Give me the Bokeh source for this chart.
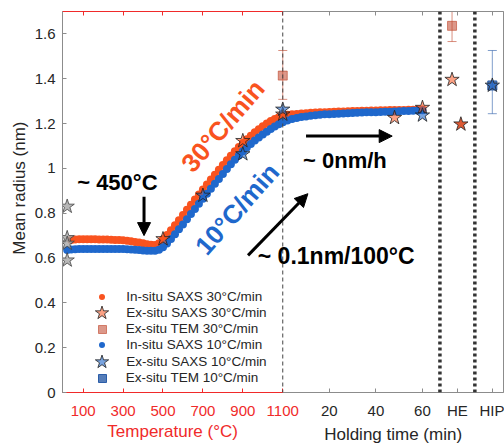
import numpy as np
from bokeh.plotting import figure
from bokeh.models import (LinearAxis, FixedTicker, Span, Label, Arrow, NormalHead,
                          Legend, LegendItem, Whisker, TeeHead, ColumnDataSource,
                          CustomLabelingPolicy)
from bokeh.embed import file_html
from bokeh.resources import INLINE

# ---------------- data ----------------
temp_30 = [40, 60, 80, 100, 120, 140, 160, 180, 200, 220, 240, 260, 280, 300, 320, 340,
           360, 380, 400, 420, 440, 460, 480, 500, 520, 540, 560, 580, 600, 620, 640, 660,
           680, 700, 720, 740, 760, 780, 800, 820, 840, 860, 880, 900, 920, 940, 960, 980,
           1000, 1020, 1040, 1060, 1080, 1100]
radius_30 = [0.681, 0.683, 0.684, 0.684, 0.684, 0.684, 0.684, 0.683, 0.683, 0.683, 0.682,
             0.681, 0.680, 0.679, 0.677, 0.675, 0.672, 0.669, 0.666, 0.662, 0.659, 0.658,
             0.666, 0.684, 0.703, 0.724, 0.746, 0.769, 0.792, 0.815, 0.838, 0.861, 0.884,
             0.906, 0.928, 0.950, 0.972, 0.994, 1.015, 1.036, 1.056, 1.076, 1.095, 1.113,
             1.130, 1.146, 1.161, 1.175, 1.188, 1.200, 1.211, 1.220, 1.228, 1.235]
temp_10 = [20, 40, 60, 80, 100, 120, 140, 160, 180, 200, 220, 240, 260, 280, 300, 320, 340,
           360, 380, 400, 420, 440, 460, 480, 500, 520, 540, 560, 580, 600, 620, 640, 660,
           680, 700, 720, 740, 760, 780, 800, 820, 840, 860, 880, 900, 920, 940, 960, 980,
           1000, 1020, 1040, 1060, 1080, 1100]
radius_10 = [0.636, 0.638, 0.639, 0.640, 0.640, 0.640, 0.640, 0.640, 0.640, 0.640, 0.640,
             0.640, 0.640, 0.640, 0.640, 0.639, 0.638, 0.637, 0.636, 0.634, 0.633, 0.632,
             0.633, 0.637, 0.648, 0.665, 0.685, 0.706, 0.728, 0.750, 0.773, 0.796, 0.819,
             0.842, 0.865, 0.887, 0.909, 0.931, 0.953, 0.975, 0.997, 1.018, 1.039, 1.058,
             1.076, 1.093, 1.109, 1.124, 1.138, 1.151, 1.164, 1.176, 1.187, 1.197, 1.206]
hold_min = [0, 2, 4, 6, 8, 10, 12, 14, 16, 18, 20, 22, 24, 26, 28, 30, 32, 34, 36, 38, 40,
            42, 44, 46, 48, 50, 52, 54, 56, 58, 60]
hold_radius_30 = [1.236, 1.239, 1.241, 1.243, 1.245, 1.246, 1.248, 1.249, 1.250, 1.251,
                  1.252, 1.253, 1.254, 1.254, 1.255, 1.256, 1.256, 1.257, 1.257, 1.258,
                  1.258, 1.259, 1.259, 1.260, 1.260, 1.261, 1.261, 1.262, 1.262, 1.263, 1.263]
hold_radius_10 = [1.207, 1.214, 1.220, 1.225, 1.229, 1.232, 1.235, 1.237, 1.239, 1.241,
                  1.242, 1.243, 1.244, 1.245, 1.246, 1.247, 1.248, 1.249, 1.250, 1.250,
                  1.251, 1.252, 1.253, 1.253, 1.254, 1.255, 1.256, 1.256, 1.257, 1.258, 1.259]

# ex-situ SAXS (stars)
star_asrec_temp = [20, 20, 20, 20]
star_asrec_r = [0.83, 0.69, 0.665, 0.59]
star30_temp = [500, 900, 1100]
star30_temp_r = [0.685, 1.123, 1.241]
star30_hold = [48, 60]
star30_hold_r = [1.226, 1.271]
star30_HE_r = [1.396]
star30_HE2_r = [1.197]
star10_temp = [700, 900, 1100]
star10_temp_r = [0.879, 1.064, 1.263]
star10_hold = [60]
star10_hold_r = [1.237]
star10_HIP_r = [1.37]

# ex-situ TEM (squares with error bars)
tem30_temp = [1100]
tem30_temp_r = [1.414]
tem30_temp_lo = [1.308]
tem30_temp_hi = [1.526]
tem30_HE_r = [1.636]
tem30_HE_lo = [1.566]
tem30_HE_hi = [1.70]
tem10_HIP_r = [1.37]
tem10_HIP_lo = [1.244]
tem10_HIP_hi = [1.526]

# ticks
temp_ticks = [100, 300, 500, 700, 900, 1100]
hold_ticks = [20, 40, 60]
cat_labels = ["HE", "HIP"]
cat_minutes = [75, 90]          # where the categories sit on the time scale
y_ticks = [0, 0.2, 0.4, 0.6, 0.8, 1.0, 1.2, 1.4, 1.6]
y_tick_labels = ["0", "0.2", "0.4", "0.6", "0.8", "1", "1.2", "1.4", "1.6"]

# ---------------- scale: temperature then holding time on one axis ----------------
T_END = 1100
HOLD_SCALE = 35.0 / 3.0        # temperature units per minute of holding
X_START, X_END = -3.5, 2206
Y_TITLE_AT = 0.912             # where the y title is centred (as in the original)


def hx(t):
    return [T_END + v * HOLD_SCALE for v in t]


cat_pos = dict(zip(cat_labels, cat_minutes))

ORANGE = "#f9531f"
BLUE = "#1f68cc"
RED_AX = "#f02a2a"
GREY_AX = "#8c8c8c"
TXT = "#262626"
FONT = "Liberation Sans"
TICK_PX = 15
TICK_H = 17      # measured height of a 15px tick label
TITLE_H = 19     # measured height of a 17px axis title

p = figure(width=504, height=446, x_range=(X_START, X_END), y_range=(0, 1.7),
           output_backend="svg", toolbar_location=None, x_axis_location=None,
           min_border_left=62, min_border_right=1, min_border_top=11, min_border_bottom=51)
p.grid.visible = False
p.outline_line_color = GREY_AX
p.background_fill_color = "white"

ya = p.yaxis[0]
ya.ticker = FixedTicker(ticks=y_ticks, minor_ticks=[])
ya.major_label_overrides = dict(zip(y_ticks, y_tick_labels))
ya.axis_line_color = GREY_AX
ya.major_tick_line_color = GREY_AX
ya.major_tick_in = 4
ya.major_tick_out = 0
ya.minor_tick_line_color = None
ya.major_label_text_font = FONT
ya.major_label_text_font_size = f"{TICK_PX}px"
ya.major_label_text_color = TXT
ya.major_label_standoff = 7


def bare_axis(ticks, bounds, color):
    return LinearAxis(ticker=FixedTicker(ticks=ticks, minor_ticks=[]), bounds=bounds,
                      axis_line_color=color, major_tick_line_color=color,
                      major_tick_in=4, major_tick_out=0, minor_tick_line_color=None,
                      major_label_text_font_size="0px", major_label_standoff=0,
                      major_label_policy=CustomLabelingPolicy(code="return [];"))


def label_axis(ticks, labels, color, size, standoff, **kw):
    return LinearAxis(ticker=FixedTicker(ticks=ticks, minor_ticks=[]),
                      major_label_overrides=dict(zip(ticks, labels)),
                      axis_line_color=None, major_tick_line_color=None,
                      major_tick_in=0, major_tick_out=0, minor_tick_line_color=None,
                      major_label_text_font=FONT, major_label_text_font_size=size,
                      major_label_text_color=color, major_label_standoff=standoff, **kw)


hold_tick_pos = hx(hold_ticks) + hx([cat_pos[c] for c in cat_labels])
hold_tick_txt = [str(v) for v in hold_ticks] + cat_labels

# y title
p.add_layout(label_axis([Y_TITLE_AT], ["Mean radius (nm)"], TXT, "17px", 2,
                        major_label_orientation="vertical"), "left")

# lines + ticks at the frame edge (holding part has no size, so both sit on the edge)
p.add_layout(bare_axis(hold_tick_pos, (T_END, X_END), GREY_AX), "below")
p.add_layout(bare_axis(hold_tick_pos, (T_END, X_END), GREY_AX), "above")
p.add_layout(bare_axis(temp_ticks, (X_START, T_END), RED_AX), "above")

tax = LinearAxis(ticker=FixedTicker(ticks=temp_ticks, minor_ticks=[]), bounds=(X_START, T_END),
                 axis_line_color=RED_AX, major_tick_line_color=RED_AX, major_tick_in=4,
                 major_tick_out=0, minor_tick_line_color=None,
                 major_label_text_font=FONT, major_label_text_font_size=f"{TICK_PX}px",
                 major_label_text_color=RED_AX, major_label_standoff=13)
p.add_layout(tax, "below")
# holding-time tick labels, pulled up into the same row
p.add_layout(label_axis(hold_tick_pos, hold_tick_txt, TXT, f"{TICK_PX}px", -TICK_H), "below")
# axis titles, centred on their own part of the axis
p.add_layout(label_axis([(X_START + T_END) / 2], ["Temperature (°C)"], RED_AX, "17px", 0),
             "below")
p.add_layout(label_axis([(T_END + X_END) / 2], ["Holding time (min)"], TXT, "17px", -TITLE_H),
             "below")

# separators
p.add_layout(Span(location=T_END, dimension="height", line_color="#444444",
                  line_dash="4 3", line_width=1))
for m in [(cat_minutes[0] + hold_ticks[-1]) / 2, (cat_minutes[0] + cat_minutes[1]) / 2]:
    p.add_layout(Span(location=hx([m])[0], dimension="height", line_color="#333333",
                      line_dash="3 3", line_width=3.5))

# in-situ SAXS
r_o = p.scatter(temp_30 + hx(hold_min), radius_30 + hold_radius_30, marker="circle",
                size=8, fill_color=ORANGE, line_color=None)
r_b = p.scatter(temp_10 + hx(hold_min), radius_10 + hold_radius_10, marker="circle",
                size=8, fill_color=BLUE, line_color=None)

# ex-situ TEM
tem30_src = ColumnDataSource(dict(
    x=tem30_temp + hx([cat_pos["HE"] - 2.3]),
    y=tem30_temp_r + tem30_HE_r,
    lo=tem30_temp_lo + tem30_HE_lo,
    hi=tem30_temp_hi + tem30_HE_hi))
tem10_src = ColumnDataSource(dict(
    x=hx([cat_pos["HIP"]]), y=tem10_HIP_r, lo=tem10_HIP_lo, hi=tem10_HIP_hi))
TEM30_C = "#c0442a"
TEM10_C = "#2b5da8"
for src, c in [(tem30_src, TEM30_C), (tem10_src, TEM10_C)]:
    p.add_layout(Whisker(source=src, base="x", lower="lo", upper="hi", dimension="height",
                         line_color=c, line_alpha=0.6, line_width=1,
                         upper_head=TeeHead(size=9, line_color=c, line_alpha=0.6),
                         lower_head=TeeHead(size=9, line_color=c, line_alpha=0.6)))
r_t30 = p.scatter("x", "y", source=tem30_src, marker="square", size=9,
                  fill_color=TEM30_C, fill_alpha=0.55, line_color=TEM30_C, line_alpha=0.6)
r_t10 = p.scatter("x", "y", source=tem10_src, marker="square", size=9,
                  fill_color=TEM10_C, fill_alpha=0.8, line_color=TEM10_C)

# ex-situ SAXS stars
p.scatter(star_asrec_temp, star_asrec_r, marker="star", size=15, fill_color="#a6a6a6",
          fill_alpha=0.8, line_color="#444444", line_alpha=0.8)
r_s30 = p.scatter(star30_temp + hx(star30_hold) + hx([cat_pos["HE"] - 2.3]),
                  star30_temp_r + star30_hold_r + star30_HE_r, marker="star", size=15,
                  fill_color=ORANGE, fill_alpha=0.55, line_color="#222222", line_alpha=0.8)
p.scatter(hx([cat_pos["HE"] + 1.5]), star30_HE2_r, marker="star", size=15,
          fill_color="#d8471e", fill_alpha=0.9, line_color="#222222", line_alpha=0.8)
r_s10 = p.scatter(star10_temp + hx(star10_hold) + hx([cat_pos["HIP"]]),
                  star10_temp_r + star10_hold_r + star10_HIP_r, marker="star", size=15,
                  fill_color=BLUE, fill_alpha=0.6, line_color="#222222", line_alpha=0.8)

# annotations
BOLD = dict(text_font=FONT, text_font_style="bold")
p.add_layout(Label(x=70, y=0.938, text="~ 450°C", text_align="left", text_baseline="middle",
                   text_font_size="22px", text_color="black", **BOLD))
p.add_layout(Arrow(end=NormalHead(size=13, fill_color="black", line_color="black"),
                   x_start=405, y_start=0.873, x_end=405, y_end=0.70,
                   line_width=3, line_color="black"))
p.add_layout(Label(x=800, y=1.19, text="30°C/min", angle=0.86, text_align="center",
                   text_baseline="middle", text_font_size="26px", text_color=ORANGE, **BOLD))
p.add_layout(Label(x=871, y=0.819, text="10°C/min", angle=0.85, text_align="center",
                   text_baseline="middle", text_font_size="26px", text_color=BLUE, **BOLD))
p.add_layout(Label(x=hx([8.7])[0], y=1.033, text="~ 0nm/h", text_align="left",
                   text_baseline="middle", text_font_size="22px", text_color="black", **BOLD))
p.add_layout(Arrow(end=NormalHead(size=13, fill_color="black", line_color="black"),
                   x_start=hx([10])[0], y_start=1.144, x_end=hx([47])[0], y_end=1.144,
                   line_width=3, line_color="black"))
p.add_layout(Arrow(end=NormalHead(size=13, fill_color="black", line_color="black"),
                   x_start=926, y_start=0.612, x_end=hx([10.8])[0], y_end=0.887,
                   line_width=3, line_color="black"))
p.add_layout(Label(x=975, y=0.607, text="~ 0.1nm/100°C", text_align="left",
                   text_baseline="middle", text_font_size="23px", text_color="black", **BOLD))

# legend: one row per entry so every marker gets its own glyph size
legend_rows = [("In-situ SAXS 30°C/min", r_o, 15), ("Ex-situ SAXS 30°C/min", r_s30, 35),
               ("Ex-situ TEM 30°C/min", r_t30, 20), ("In-situ SAXS 10°C/min", r_b, 15),
               ("Ex-situ SAXS 10°C/min", r_s10, 35), ("Ex-situ TEM 10°C/min", r_t10, 20)]
for i, (lab, rend, g) in enumerate(legend_rows):
    cy = 96 - i * 16.3
    p.add_layout(Legend(items=[LegendItem(label=lab, renderers=[rend])],
                        location=(39.7 - g / 2, cy - g / 2), padding=0, margin=0, spacing=0,
                        glyph_width=g, glyph_height=g, label_height=g,
                        label_standoff=int(round(24.3 - g / 2)), label_text_font=FONT,
                        label_text_font_size="13.5px", label_text_color=TXT,
                        border_line_color=None, background_fill_alpha=0))

open("out.html", "w").write(file_html(p, INLINE))
